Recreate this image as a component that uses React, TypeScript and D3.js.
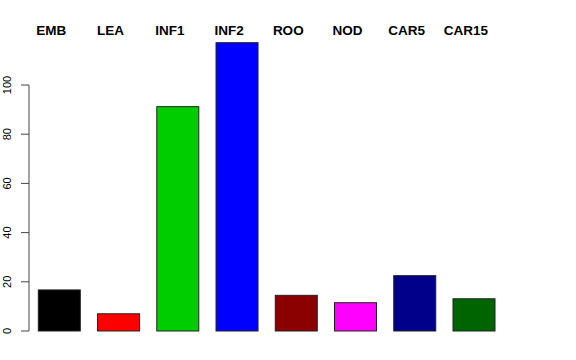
import React from "react";
import * as d3 from "d3";

const categories = ["EMB", "LEA", "INF1", "INF2", "ROO", "NOD", "CAR5", "CAR15"];
const values = [16.7, 7.0, 91.2, 117.2, 14.5, 11.5, 22.5, 13.1];
const colors = ["#000000", "#FF0000", "#00CD00", "#0000FF", "#8B0000", "#FF00FF", "#00008B", "#006400"];
const yTicks = [0, 20, 40, 60, 80, 100];

export default function App() {
  const W = 576, H = 360;
  const x = d3.scaleBand<string>().domain(categories).range([38.3, 495]).paddingInner(0.291).paddingOuter(0);
  const y = d3.scaleLinear().domain([0, 100]).range([331, 85]);
  const font = "'Liberation Sans', Arial, Helvetica, sans-serif";
  return (
    <svg width={W} height={H} style={{ position: "absolute", left: 0, top: 0, background: "#fff" }}>
      <rect x={0} y={0} width={W} height={H} fill="#fff" />
      {categories.map((c, i) => (
        <rect key={c} x={x(c)!} y={y(values[i])} width={x.bandwidth()} height={y(0) - y(values[i])}
          fill={colors[i]} stroke="#222" strokeWidth={1} />
      ))}
      {categories.map((c) => (
        <text key={"l" + c} x={x(c)! + x.bandwidth() / 2 - 8} y={35} textAnchor="middle"
          fontFamily={font} fontWeight="bold" fontSize={13.5} fill="#000">{c}</text>
      ))}
      <line x1={29} x2={29} y1={y(0)} y2={y(100)} stroke="#444" strokeWidth={1} />
      {yTicks.map((t) => (
        <g key={t}>
          <line x1={21} x2={29} y1={y(t)} y2={y(t)} stroke="#444" strokeWidth={1} />
          <text transform={`translate(11,${y(t)}) rotate(-90)`} textAnchor="middle"
            fontFamily={font} fontSize={11} fill="#000">{t}</text>
        </g>
      ))}
    </svg>
  );
}
